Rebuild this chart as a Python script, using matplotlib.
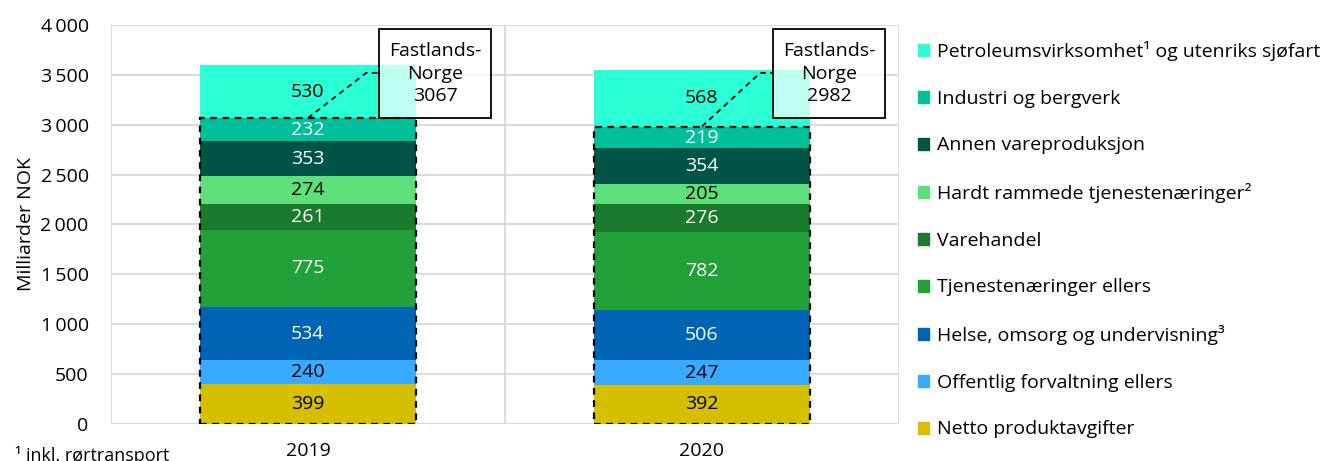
import matplotlib
matplotlib.use("Agg")
import matplotlib.pyplot as plt
from matplotlib.patches import Rectangle, Patch
from matplotlib.ticker import FuncFormatter
import numpy as np

plt.rcParams["font.family"] = ["Open Sans", "DejaVu Sans"]
plt.rcParams["font.size"] = 14

years = ["2019", "2020"]
# bottom to top
categories = [
    "Netto produktavgifter",
    "Offentlig forvaltning ellers",
    "Helse, omsorg og undervisning³",
    "Tjenestenæringer ellers",
    "Varehandel",
    "Hardt rammede tjenestenæringer²",
    "Annen vareproduksjon",
    "Industri og bergverk",
    "Petroleumsvirksomhet¹ og utenriks sjøfart",
]
netto      = [399, 392]
offentlig  = [240, 247]
helse      = [534, 506]
tjeneste   = [775, 782]
varehandel = [261, 276]
hardt      = [274, 205]
annen      = [353, 354]
industri   = [232, 219]
petroleum  = [530, 568]
fastland   = [3067, 2982]

series = [netto, offentlig, helse, tjeneste, varehandel, hardt, annen, industri, petroleum]
colors = ["#D6BF00", "#38AAFF", "#0064B4", "#22A03A", "#1A7A2E",
          "#5DE07A", "#005446", "#00BF9B", "#2BFFD5"]
text_colors = ["black", "black", "white", "white", "white",
               "black", "white", "white", "black"]

x = np.arange(len(years))
width = 0.55

fig = plt.figure(figsize=(13.27, 4.61), dpi=100)
ax = fig.add_axes([0.0836, 0.0803, 0.5938, 0.8655])

bottom = np.zeros(len(years))
for vals, c, tc in zip(series, colors, text_colors):
    vals = np.array(vals)
    ax.bar(x, vals, width, bottom=bottom, color=c, zorder=2)
    for i, v in enumerate(vals):
        ax.text(x[i], bottom[i] + v / 2, f"{v}", ha="center", va="center",
                color=tc, fontsize=14, zorder=4)
    bottom += vals

# Fastlands-Norge dashed frame and callout
for i, tot in enumerate(fastland):
    ax.add_patch(Rectangle((x[i] - width / 2, 0), width, tot, fill=False,
                           ls=(0, (3, 2.5)), lw=1.6, ec="black", zorder=5))
    ax.plot([x[i], x[i] + 0.148, x[i] + 0.182], [tot, 3520, 3520],
            ls=(0, (3, 2.5)), lw=1.3, color="black", zorder=5)
    ax.add_patch(Rectangle((x[i] + 0.181, 3070), 0.284, 890,
                           fc=(1, 1, 1, 0.7), ec="black", lw=1.3, zorder=6))
    ax.text(x[i] + 0.323, 3510, f"Fastlands-\nNorge\n{tot}", ha="center",
            va="center", fontsize=14, linespacing=1.32, zorder=7)

ax.set_xlim(-0.5, 1.5)
ax.set_ylim(0, 4000)
ax.set_yticks(np.arange(0, 4001, 500))
ax.yaxis.set_major_formatter(FuncFormatter(lambda v, p: f"{v:,.0f}".replace(",", "\u2009")))
ax.set_xticks(x)
ax.set_xticklabels(years)
ax.tick_params(length=0, labelsize=14)
ax.tick_params(axis="x", pad=13)
ax.tick_params(axis="y", pad=16)
ax.grid(axis="y", color="#D9D9D9", lw=1.3, zorder=0)
for xv in [-0.5, 0.5, 1.5]:
    ax.axvline(xv, color="#D9D9D9", lw=1.3, zorder=0)
for s in ax.spines.values():
    s.set_visible(False)
ax.axhline(0, color="#D9D9D9", lw=1.5, zorder=1)
ax.set_ylabel("Milliarder NOK", fontsize=14, labelpad=4)

handles = [Patch(color=c) for c in colors[::-1]]
fig.legend(handles, categories[::-1], loc="upper left",
           bbox_to_anchor=(0.6915, 0.911), frameon=False, fontsize=14,
           handlelength=0.57, handleheight=0.57, handletextpad=0.45,
           labelspacing=1.475, borderpad=0, borderaxespad=0)

fig.text(0.011, 1 - 446 / 461, "¹ inkl. rørtransport", fontsize=13, va="top")

fig.savefig("out.png", dpi=100)
